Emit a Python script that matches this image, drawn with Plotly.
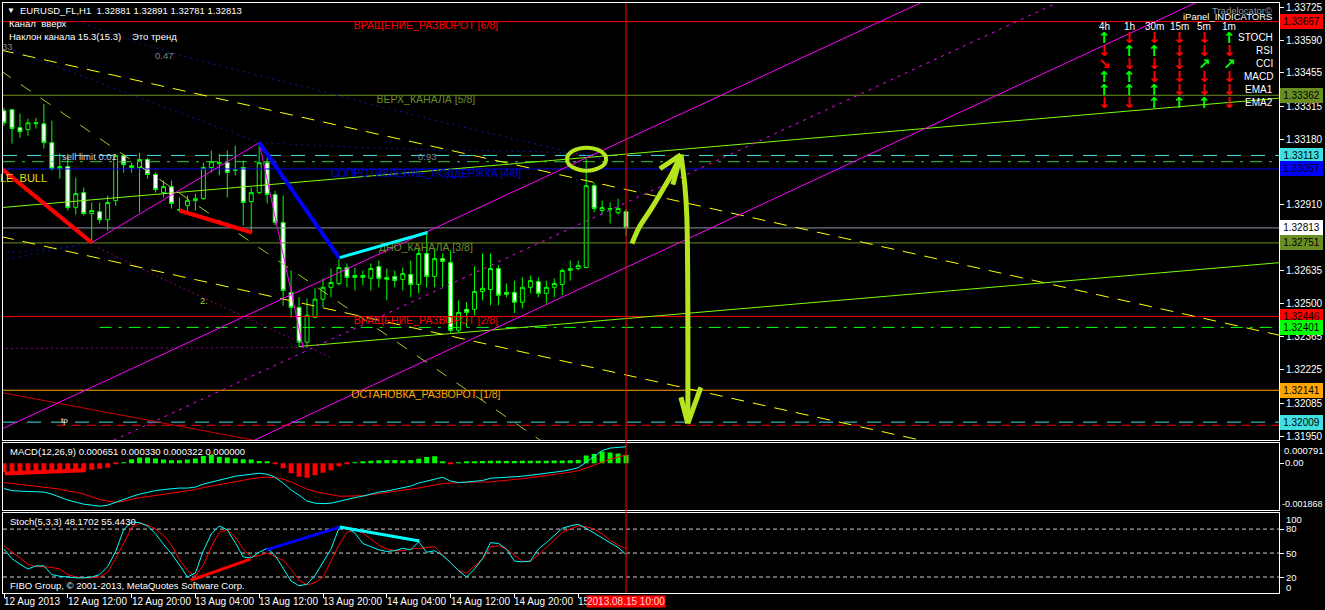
import plotly.graph_objects as go

# ---------------------------------------------------------------------------
# EURUSD_FL, H1 : bars from 12 Aug 2013 04:00 to 15 Aug 2013 10:00
# ---------------------------------------------------------------------------
bar_index = list(range(79))

opens = [1.33298, 1.33302, 1.33228, 1.33220, 1.33244, 1.33244, 1.33166, 1.33058, 1.33067, 1.32897,
         1.32959, 1.32872, 1.32880, 1.32847, 1.32926, 1.33112, 1.33063, 1.33063, 1.33096, 1.33034,
         1.32959, 1.32984, 1.32889, 1.32905, 1.32926, 1.32934, 1.33063, 1.33079, 1.33083, 1.33054,
         1.33063, 1.32922, 1.32959, 1.33083, 1.32951, 1.32835, 1.32546, 1.32484, 1.32340, 1.32443,
         1.32518, 1.32567, 1.32583, 1.32649, 1.32616, 1.32616, 1.32604, 1.32653, 1.32608, 1.32612,
         1.32600, 1.32620, 1.32579, 1.32707, 1.32612, 1.32686, 1.32670, 1.32389, 1.32476, 1.32476,
         1.32550, 1.32558, 1.32645, 1.32546, 1.32546, 1.32505, 1.32567, 1.32591, 1.32542, 1.32567,
         1.32579, 1.32637, 1.32645, 1.32649, 1.32988, 1.32885, 1.32893, 1.32876, 1.32881]
highs = [1.33310, 1.33306, 1.33286, 1.33265, 1.33269, 1.33327, 1.33257, 1.33120, 1.33120, 1.33021,
         1.32980, 1.32918, 1.32918, 1.32947, 1.33120, 1.33120, 1.33083, 1.33124, 1.33104, 1.33042,
         1.33009, 1.33009, 1.32939, 1.32947, 1.32955, 1.33083, 1.33133, 1.33120, 1.33133, 1.33154,
         1.33092, 1.32980, 1.33166, 1.33104, 1.32967, 1.32947, 1.32637, 1.32526, 1.32521, 1.32563,
         1.32604, 1.32645, 1.32686, 1.32666, 1.32649, 1.32637, 1.32666, 1.32678, 1.32645, 1.32637,
         1.32649, 1.32678, 1.32728, 1.32790, 1.32728, 1.32707, 1.32720, 1.32513, 1.32505, 1.32654,
         1.32707, 1.32707, 1.32658, 1.32583, 1.32595, 1.32608, 1.32616, 1.32608, 1.32595, 1.32604,
         1.32645, 1.32678, 1.32678, 1.33100, 1.33000, 1.32926, 1.32918, 1.32934, 1.32891]
lows = [1.33236, 1.33162, 1.33186, 1.33195, 1.33224, 1.33141, 1.33050, 1.33017, 1.32885, 1.32868,
        1.32864, 1.32753, 1.32831, 1.32802, 1.32905, 1.33042, 1.33042, 1.32877, 1.33017, 1.32959,
        1.32939, 1.32893, 1.32877, 1.32877, 1.32885, 1.32930, 1.33042, 1.33030, 1.32939, 1.33030,
        1.32823, 1.32794, 1.32951, 1.32914, 1.32823, 1.32491, 1.32442, 1.32319, 1.32319, 1.32439,
        1.32484, 1.32526, 1.32575, 1.32567, 1.32554, 1.32575, 1.32554, 1.32567, 1.32513, 1.32567,
        1.32554, 1.32526, 1.32542, 1.32567, 1.32567, 1.32567, 1.32380, 1.32380, 1.32402, 1.32451,
        1.32513, 1.32493, 1.32493, 1.32526, 1.32460, 1.32480, 1.32542, 1.32526, 1.32500, 1.32526,
        1.32534, 1.32595, 1.32637, 1.32645, 1.32877, 1.32868, 1.32831, 1.32868, 1.32781]
closes = [1.33248, 1.33224, 1.33211, 1.33248, 1.33248, 1.33166, 1.33058, 1.33067, 1.32897, 1.32955,
          1.32872, 1.32885, 1.32847, 1.32918, 1.33112, 1.33075, 1.33071, 1.33096, 1.33034, 1.32972,
          1.32984, 1.32914, 1.32887, 1.32926, 1.32934, 1.33063, 1.33087, 1.33083, 1.33042, 1.33052,
          1.32918, 1.32959, 1.33083, 1.32951, 1.32835, 1.32554, 1.32484, 1.32340, 1.32451, 1.32518,
          1.32567, 1.32587, 1.32649, 1.32608, 1.32608, 1.32608, 1.32645, 1.32604, 1.32600, 1.32595,
          1.32624, 1.32579, 1.32707, 1.32612, 1.32686, 1.32674, 1.32389, 1.32463, 1.32463, 1.32550,
          1.32563, 1.32645, 1.32534, 1.32538, 1.32505, 1.32567, 1.32595, 1.32542, 1.32567, 1.32583,
          1.32637, 1.32645, 1.32658, 1.32988, 1.32893, 1.32897, 1.32891, 1.32893, 1.32813]

# MACD(12,26,9)
macd_main = [-0.00101, -0.00109, -0.00111, -0.00113, -0.00115, -0.00115, -0.00123, -0.00135, -0.00147, -0.00155,
             -0.00163, -0.00167, -0.00171, -0.00167, -0.00155, -0.00143, -0.00133, -0.00123, -0.00115, -0.00109,
             -0.00105, -0.00101, -0.00099, -0.00099, -0.00095, -0.00083, -0.00075, -0.00067, -0.00060, -0.00052,
             -0.00048, -0.00044, -0.00040, -0.00044, -0.00056, -0.00079, -0.00107, -0.00127, -0.00151, -0.00159,
             -0.00161, -0.00159, -0.00151, -0.00145, -0.00137, -0.00131, -0.00123, -0.00115, -0.00111, -0.00105,
             -0.00099, -0.00091, -0.00079, -0.00071, -0.00062, -0.00056, -0.00071, -0.00077, -0.00075, -0.00073,
             -0.00069, -0.00060, -0.00058, -0.00058, -0.00056, -0.00052, -0.00048, -0.00044, -0.00042, -0.00038,
             -0.00032, -0.00026, -0.00018, 0.00004, 0.00028, 0.00050, 0.00060, 0.00064, 0.000651]
macd_signal = [-0.00077, -0.00081, -0.00085, -0.00087, -0.00091, -0.00095, -0.00099, -0.00103, -0.00111, -0.00115,
               -0.00123, -0.00135, -0.00145, -0.00151, -0.00155, -0.00151, -0.00143, -0.00137, -0.00133, -0.00129,
               -0.00123, -0.00119, -0.00115, -0.00109, -0.00105, -0.00097, -0.00091, -0.00083, -0.00077, -0.00071,
               -0.00067, -0.00062, -0.00058, -0.00056, -0.00058, -0.00063, -0.00075, -0.00089, -0.00103, -0.00113,
               -0.00119, -0.00127, -0.00131, -0.00131, -0.00131, -0.00129, -0.00125, -0.00121, -0.00117, -0.00113,
               -0.00109, -0.00105, -0.00099, -0.00093, -0.00087, -0.00081, -0.00079, -0.00077, -0.00077, -0.00075,
               -0.00075, -0.00075, -0.00071, -0.00067, -0.00065, -0.00062, -0.00058, -0.00054, -0.00050, -0.00046,
               -0.00040, -0.00036, -0.00030, -0.00020, -0.00008, 0.00004, 0.00016, 0.00024, 0.000330]
macd_hist = [-0.00036, -0.00038, -0.00038, -0.00036, -0.00034, -0.00032, -0.00030, -0.00030, -0.00030, -0.00028,
             -0.00028, -0.00026, -0.00022, -0.00018, -0.00004, 0.00003, 0.00016, 0.00023, 0.00023, 0.00019,
             0.00015, 0.00012, 0.00012, 0.00015, 0.00019, 0.00028, 0.00032, 0.00025, 0.00023, 0.00019,
             0.00016, 0.00015, 0.00009, 0.00004, -0.00002, -0.00020, -0.00040, -0.00054, -0.00058, -0.00048,
             -0.00038, -0.00028, -0.00012, -0.00004, 0.00002, 0.00005, 0.00010, 0.00012, 0.00013, 0.00013,
             0.00011, 0.00013, 0.00018, 0.00024, 0.00027, 0.00004, -0.00002, 0.00002, 0.00006, 0.00008,
             0.00009, 0.00010, 0.00010, 0.00009, 0.00009, 0.00010, 0.00010, 0.00010, 0.00010, 0.00011,
             0.00011, 0.00012, 0.00013, 0.00030, 0.00036, 0.00046, 0.00042, 0.00038, 0.000322]

# Stochastic(5,3,3)
stoch_main = [55, 43, 36, 30, 34, 34, 23, 21, 20, 19,
              19, 20, 23, 33, 52, 79, 89, 88, 84, 74,
              61, 49, 35, 20, 25, 53, 74, 84, 79, 63,
              45, 44, 51, 56, 47, 31, 15, 9, 11, 22,
              39, 55, 81, 82, 75, 62, 58, 54, 52, 53,
              56, 54, 64, 51, 53, 47, 38, 28, 20, 30,
              43, 63, 62, 55, 40, 39, 40, 55, 63, 72,
              81, 84, 86, 81, 75, 69, 64, 57, 48.1702]
stoch_signal = [59, 52, 44, 36, 33, 33, 32, 30, 23, 20,
                19, 19, 20, 26, 43, 62, 82, 87, 85, 80,
                72, 60, 42, 28, 21, 35, 58, 76, 79, 70,
                55, 45, 47, 50, 46, 41, 30, 16, 10, 13,
                20, 41, 60, 76, 79, 75, 68, 60, 55, 53,
                53, 55, 56, 57, 58, 48, 38, 28, 25, 33,
                42, 58, 59, 55, 47, 40, 39, 48, 56, 66,
                76, 80, 84, 83, 80, 74, 66, 60, 55.443]

# time scale
time_label_bars = [0, 8, 16, 24, 32, 40, 48, 56, 64, 72]
time_labels = ["12 Aug 2013", "12 Aug 12:00", "12 Aug 20:00", "13 Aug 04:00", "13 Aug 12:00",
               "13 Aug 20:00", "14 Aug 04:00", "14 Aug 12:00", "14 Aug 20:00", "15 Aug 04:00"]
current_bar = 78
current_bar_label = "2013.08.15 10:00"

# price scale
price_ticks = [1.33725, 1.33590, 1.33455, 1.33315, 1.33180, 1.33045, 1.32910,
               1.32770, 1.32635, 1.32500, 1.32365, 1.32225, 1.32085, 1.31950]

# Murrey-math levels
murrey_prices = [1.33667, 1.33362, 1.33057, 1.32751, 1.32446, 1.32141]
murrey_names = ["ВРАЩЕНИЕ_РАЗВОРОТ [6/8]", "ВЕРХ_КАНАЛА [5/8]", "СОПРОТИВЛЕНИЕ_ПОДДЕРЖКА [4/8]",
                "ДНО_КАНАЛА [3/8]", "ВРАЩЕНИЕ_РАЗВОРОТ [2/8]", "ОСТАНОВКА_РАЗВОРОТ [1/8]"]
murrey_label_bar = 52.9

# order lines
bid_price = 1.32813
sell_limit_price = 1.33113
take_profit_price = 1.32009
tp_marker_price = 1.31996
upper_dashdot_price = 1.33087
lower_dashdot_price = 1.32401

# price tags on the right scale
tag_prices = [1.33667, 1.33362, 1.33113, 1.33057, 1.32813, 1.32751, 1.32446, 1.32401, 1.32141, 1.32009]

# regression channel (three parallel lines), (bar, price) end points
chan_upper_bars, chan_upper_prices = [-0.375, 114.875], [1.31979, 1.33744]
chan_mid_bars, chan_mid_prices = [13.75, 132.0], [1.31934, 1.33744]
chan_lower_bars, chan_lower_prices = [31.375, 149.375], [1.31934, 1.33744]

# zigzag swing points
zz_bars = [-0.375, 11, 32, 37.5]
zz_prices = [1.33062, 1.32752, 1.33166, 1.32318]

# trend lines
yel1_bars, yel1_prices = [-0.375, 159.875], [1.33549, 1.32369]
yel2_bars, yel2_prices = [-0.375, 115.0], [1.32777, 1.31934]
limedash_bars, limedash_prices = [-0.375, 67.25], [1.33463, 1.31934]
lime_up_bars, lime_up_prices = [-0.375, 159.875], [1.32897, 1.33350]
lime_lo_bars, lime_lo_prices = [37.0, 159.875], [1.32322, 1.32669]
red_thin_bars, red_thin_prices = [-0.375, 31.375], [1.32132, 1.31934]

# Fibonacci fan / arc rays
fanA_bars, fanA_prices = [-0.375, 32], [1.33567, 1.33166]
fanB_bars = [8.375, 19.375, 37.125, 55.875, 70.25, 75.875]
fanB_prices = [1.33678, 1.33554, 1.33401, 1.33244, 1.33133, 1.33091]
fanC_bars = [32, 48.975, 70.25, 75.875]
fanC_prices = [1.33166, 1.33141, 1.33124, 1.33108]
arcD1_bars, arcD1_prices = [-0.375, 10.875], [1.32678, 1.32752]
arcD2_bars, arcD2_prices = [-0.375, 9.25], [1.32707, 1.32740]
purp1_bars = [11.75, 23, 37.125, 40.875]
purp1_prices = [1.32732, 1.32554, 1.32339, 1.32277]
purp2_bars, purp2_prices = [-0.375, 38.375], [1.32314, 1.32318]

# divergence lines on price
div_red1_bars, div_red1_prices = [-0.375, 11], [1.33060, 1.32752]
div_red2_bars, div_red2_prices = [22, 31.1], [1.32885, 1.32794]
div_blue_bars, div_blue_prices = [32, 42.1], [1.33166, 1.32686]
div_cyan_bars, div_cyan_prices = [42.1, 53.1], [1.32690, 1.32794]

# divergence lines on oscillators
macd_div_bars, macd_div_vals = [0.1, 10.25], [-0.00041, -0.00028]
st_red_bars, st_red_vals = [23.4, 30.9], [16, 42.5]
st_blue_bars, st_blue_vals = [32.9, 42.1], [54, 82.5]
st_cyan_bars, st_cyan_vals = [42.1, 52.1], [82.5, 65]

# hand-drawn forecast arrow and highlight ring
arrow_up_bars = [78.75, 79.625, 81.25, 82.75, 83.75, 84.875]
arrow_up_prices = [1.32748, 1.32814, 1.32897, 1.32980, 1.33037, 1.33116]
arrow_top_l_bars, arrow_top_l_prices = [82.25, 84.875], [1.33058, 1.33116]
arrow_top_r_bars, arrow_top_r_prices = [83.875, 84.875], [1.32992, 1.33116]
arrow_dn_bars = [84.875, 85.375, 85.625, 85.75]
arrow_dn_prices = [1.33116, 1.32988, 1.32855, 1.32004]
arrow_bot_l_bars, arrow_bot_l_prices = [84.875, 85.75], [1.32112, 1.32004]
arrow_bot_r_bars, arrow_bot_r_prices = [87.375, 85.75], [1.32153, 1.32004]
ring_bars, ring_prices = [70.6, 75.5], [1.33050, 1.33145]

# indicator panel
panel_cols = ["4h", "1h", "30m", "15m", "5m", "1m"]
panel_rows = ["STOCH", "RSI", "CCI", "MACD", "EMA1", "EMA2"]
panel_signals = [["up", "dn", "dn", "dn", "dn", "up"],
                 ["dn", "up", "up", "dn", "dn", "dn"],
                 ["dr", "dn", "dn", "dn", "ur", "ur"],
                 ["up", "up", "dn", "dn", "dn", "dn"],
                 ["up", "up", "up", "dn", "dn", "dn"],
                 ["dn", "dn", "up", "up", "up", "dn"]]

# ---------------------------------------------------------------------------
FONT = "Liberation Sans, Arial, sans-serif"
FS = 9.5
FS_AX = 10
W, H = 1325, 610
ML, MR, MT, MB = 2, 43, 2, 17
XR = [-0.125, 159.875]

MAIN_DOM = [0.2589, 1.0]
MACD_DOM = [0.1404, 0.2538]
STOCH_DOM = [0.0, 0.1354]


def px(x):
    return (x - ML) / (W - ML - MR)


def py(y):
    return (H - MB - y) / (H - MT - MB)


fig = go.Figure()


def add_line(xs, ys, color, width=1, dash="solid", pane="main", shape="linear"):
    xa, ya = {"main": ("x", "y"), "macd": ("x2", "y2"), "stoch": ("x3", "y3")}[pane]
    fig.add_trace(go.Scatter(x=xs, y=ys, mode="lines", xaxis=xa, yaxis=ya,
                             line=dict(color=color, width=width, dash=dash, shape=shape),
                             hoverinfo="skip", showlegend=False))


def hline(price, color, width=1, dash="solid", start=XR[0]):
    add_line([start, XR[1]], [price, price], color, width, dash)


# ---------------- main pane: objects under the bars ----------------
hline(murrey_prices[0], "#ff0000")
hline(murrey_prices[1], "#6b8e23")
hline(sell_limit_price, "#40e0e0", 1, "14px,10px")
hline(upper_dashdot_price, "#32cd32", 1, "12px,7px,3px,7px")
hline(murrey_prices[2], "#0000e0")
hline(bid_price, "#8c99a6")
hline(murrey_prices[3], "#6b8e23")
hline(murrey_prices[4], "#ff0000")
hline(lower_dashdot_price, "#00ff00", 1, "12px,7px,3px,7px", start=12)
hline(murrey_prices[5], "#ffa500")
hline(take_profit_price, "#40e0e0", 1, "14px,10px")
hline(tp_marker_price, "#ff0000", 1, "9px,6px", start=6.6)

add_line(fanA_bars, fanA_prices, "#0a1a9a", 1, "2px,4px")
add_line(fanB_bars, fanB_prices, "#0a1a9a", 1, "2px,4px", shape="spline")
add_line(fanC_bars, fanC_prices, "#0a1a9a", 1, "2px,4px", shape="spline")
add_line(arcD1_bars, arcD1_prices, "#0a1a9a", 1, "2px,4px")
add_line(arcD2_bars, arcD2_prices, "#0a1a9a", 1, "2px,4px")
add_line(purp1_bars, purp1_prices, "#8b008b", 1, "2px,3px")
add_line(purp2_bars, purp2_prices, "#8b008b", 1, "2px,3px")
add_line(red_thin_bars, red_thin_prices, "#d00000", 1)

add_line(yel1_bars, yel1_prices, "#ffff00", 1, "13px,9px")
add_line(yel2_bars, yel2_prices, "#ffff00", 1, "13px,9px")
add_line(limedash_bars, limedash_prices, "#9acd32", 1, "12px,12px")
add_line(lime_up_bars, lime_up_prices, "#7cfc00", 1)
add_line(lime_lo_bars, lime_lo_prices, "#7cfc00", 1)

add_line(chan_upper_bars, chan_upper_prices, "#ff00ff", 1)
add_line(chan_mid_bars, chan_mid_prices, "#ff00ff", 1, "3px,5px")
add_line(chan_lower_bars, chan_lower_prices, "#ff00ff", 1)

# level captions (kept under the bars)
murrey_colors = ["#ff0000", "#6b8e23", "#0000e0", "#6b8e23", "#ff0000", "#ffa500"]
for p, name, c in zip(murrey_prices, murrey_names, murrey_colors):
    fig.add_trace(go.Scatter(x=[murrey_label_bar], y=[p], mode="text", text=[name],
                             textposition="bottom center", xaxis="x", yaxis="y",
                             textfont=dict(color=c, size=10.5, family=FONT),
                             hoverinfo="skip", showlegend=False))

# ---------------- price bars ----------------
fig.add_trace(go.Candlestick(
    x=bar_index, open=opens, high=highs, low=lows, close=closes,
    xaxis="x", yaxis="y",
    increasing=dict(line=dict(color="#00ff00", width=1), fillcolor="#000000"),
    decreasing=dict(line=dict(color="#00ff00", width=1), fillcolor="#ffffff"),
    whiskerwidth=0, hoverinfo="skip", showlegend=False))

# ---------------- main pane: objects over the bars ----------------
add_line(zz_bars, zz_prices, "#ff00ff", 1)
add_line(div_red1_bars, div_red1_prices, "#ff0000", 4)
add_line(div_red2_bars, div_red2_prices, "#ff0000", 4)
add_line(div_blue_bars, div_blue_prices, "#0000ff", 4)
add_line(div_cyan_bars, div_cyan_prices, "#00ffff", 3)

ARROW = "#b5e61d"
add_line(arrow_up_bars, arrow_up_prices, ARROW, 5, shape="spline")
add_line(arrow_top_l_bars, arrow_top_l_prices, ARROW, 5)
add_line(arrow_top_r_bars, arrow_top_r_prices, ARROW, 5)
add_line(arrow_dn_bars, arrow_dn_prices, ARROW, 5, shape="spline")
add_line(arrow_bot_l_bars, arrow_bot_l_prices, ARROW, 5)
add_line(arrow_bot_r_bars, arrow_bot_r_prices, ARROW, 5)
fig.add_shape(type="circle", xref="x", yref="y", x0=ring_bars[0], x1=ring_bars[1],
              y0=ring_prices[0], y1=ring_prices[1], line=dict(color=ARROW, width=4))

# ---------------- MACD pane ----------------
fig.add_trace(go.Bar(x=bar_index, y=macd_hist, xaxis="x2", yaxis="y2", width=0.62,
                     marker=dict(color=["#00ff00" if v >= 0 else "#ff0000" for v in macd_hist],
                                 line=dict(width=0)),
                     hoverinfo="skip", showlegend=False))
add_line(bar_index, macd_signal, "#ff0000", 1, pane="macd")
add_line(bar_index, macd_main, "#00ffff", 1, pane="macd")
add_line(macd_div_bars, macd_div_vals, "#ff0000", 4, pane="macd")

# ---------------- Stochastic pane ----------------
for lv in (80, 50, 20):
    add_line(XR, [lv, lv], "#d0d0d0", 1, "4px,3px", pane="stoch")
add_line(bar_index, stoch_signal, "#ff0000", 1, pane="stoch")
add_line(bar_index, stoch_main, "#00ffff", 1, pane="stoch")
add_line(st_red_bars, st_red_vals, "#ff0000", 3, pane="stoch")
add_line(st_blue_bars, st_blue_vals, "#0000ff", 3, pane="stoch")
add_line(st_cyan_bars, st_cyan_vals, "#00ffff", 3, pane="stoch")

# current bar marker through all panes
fig.add_shape(type="line", xref="x", yref="paper", x0=current_bar, x1=current_bar,
              y0=0, y1=1, line=dict(color="#ff0000", width=1))

# ---------------- axes ----------------
axis_common = dict(showgrid=False, zeroline=False, showline=True, mirror=True,
                   linecolor="#ffffff", linewidth=1, fixedrange=True)
fig.update_layout(
    width=W, height=H,
    margin=dict(l=ML, r=MR, t=MT, b=MB),
    paper_bgcolor="#000000", plot_bgcolor="#000000",
    hovermode=False, showlegend=False, dragmode=False,
    xaxis=dict(domain=[0, 1], range=XR, anchor="y", showticklabels=False,
               rangeslider=dict(visible=False), **axis_common),
    xaxis2=dict(domain=[0, 1], range=XR, anchor="y2", matches="x", showticklabels=False, **axis_common),
    xaxis3=dict(domain=[0, 1], range=XR, anchor="y3", matches="x", showticklabels=False,
                tickmode="array", tickvals=time_label_bars, ticks="outside", ticklen=4,
                tickcolor="#ffffff", **axis_common),
    yaxis=dict(domain=MAIN_DOM, range=[1.31934, 1.33744], anchor="x", side="right",
               tickmode="array", tickvals=price_ticks, ticktext=[f"{v:.5f}" for v in price_ticks],
               ticks="outside", ticklen=4, tickcolor="#ffffff",
               tickfont=dict(color="#ffffff", size=FS_AX, family=FONT), **axis_common),
    yaxis2=dict(domain=MACD_DOM, range=[-0.001868, 0.000791], anchor="x2", side="right",
                tickmode="array", tickvals=[0], showticklabels=False, ticks="outside", ticklen=4,
                tickcolor="#ffffff", **axis_common),
    yaxis3=dict(domain=STOCH_DOM, range=[0, 100], anchor="x3", side="right",
                tickmode="array", tickvals=[20, 50, 80], showticklabels=False, ticks="outside",
                ticklen=4, tickcolor="#ffffff", **axis_common),
)


# ---------------- text ----------------
def label(x, y, text, color="#ffffff", size=FS, xanchor="left", yanchor="middle", family=FONT, **kw):
    fig.add_annotation(xref="paper", yref="paper", x=px(x), y=py(y), text=text, showarrow=False,
                       xanchor=xanchor, yanchor=yanchor,
                       font=dict(color=color, size=size, family=family), **kw)


label(4, 10, "▼", size=8)
label(17, 10, "EURUSD_FL,H1  1.32881 1.32891 1.32781 1.32813")
label(6, 23, "Канал  вверх")
label(6, 36, "Наклон канала 15.3(15.3)")
label(129, 36, "Это тренд")
label(-1, 46, "33", color="#7a8796")
label(152, 55, "0.47", color="#7a8796")
label(416, 156, "0.93", color="#7a8796")
label(59, 156, "sell limit 0.01", color="#c8d2e6")
label(-3, 177, "LE  BULL", color="#e8dc00", size=11)
label(198, 300, "2.", color="#9acd32")
label(58, 420, "tp", color="#ffffff", size=8)

# indicator panel
label(1277, 10, "Tradelocator©", color="#9a9a9a", xanchor="right")
label(1277, 16, "iPanel_INDICATORS", color="#ffffff", xanchor="right")
col_x = [1107, 1132, 1157, 1182, 1207, 1232]
row_y = [37, 50, 63, 76, 89, 102]
for cx, name in zip(col_x, panel_cols):
    label(cx, 26, name, size=10, xanchor="center")
for ry, name in zip(row_y, panel_rows):
    label(1278, ry, name, size=10, xanchor="right")
arrow_glyph = {"up": ("↑", "#00ff00"), "dn": ("↓", "#ff0000"),
               "ur": ("↗", "#00ff00"), "dr": ("↘", "#ff0000")}
for ry, row in zip(row_y, panel_signals):
    for cx, sig in zip(col_x, row):
        g, c = arrow_glyph[sig]
        label(cx, ry, f"<b>{g}</b>", color=c, size=15, xanchor="center", family="DejaVu Sans")

# price tags on the scale
tag_colors = ["#ff0000", "#6b8e23", "#40e0e0", "#0000ff", "#ffffff",
              "#6b8e23", "#ff0000", "#00ff00", "#ffa500", "#40e0e0"]
for p, c in zip(tag_prices, tag_colors):
    fig.add_annotation(xref="paper", yref="y", x=1.0, y=p, xanchor="left", yanchor="middle",
                       xshift=1, text=f"{p:.5f}", showarrow=False, bgcolor=c, bordercolor=c,
                       borderpad=0, width=41, height=13, align="center",
                       font=dict(color="#000000", size=FS_AX, family=FONT))

# oscillator captions and scales
label(7, 451, "MACD(12,26,9) 0.000651 0.000330 0.000322 0.000000")
label(7, 521, "Stoch(5,3,3) 48.1702 55.4430")
label(7, 585, "FIBO Group, © 2001-2013, MetaQuotes Software Corp.")
label(1285, 450, "0.000791", size=9.5)
label(1286, 462, "0.00", size=9.5)
label(1283, 504, "-0.001868", size=9)
label(1287, 519, "100", size=9.5)
label(1287, 528, "80", size=9.5)
label(1287, 553, "50", size=9.5)
label(1287, 577, "20", size=9.5)
label(1287, 587, "0", size=9.5)

# time scale labels
for b, t in zip(time_label_bars, time_labels):
    fig.add_annotation(xref="x3", yref="paper", x=b, y=py(602), xanchor="left", yanchor="middle",
                       xshift=-2, text=t, showarrow=False,
                       font=dict(color="#ffffff", size=FS_AX, family=FONT))
fig.add_annotation(xref="x3", yref="paper", x=current_bar, y=py(602), xanchor="center",
                   yanchor="middle", text=current_bar_label, showarrow=False, bgcolor="#ff0000",
                   borderpad=0, font=dict(color="#ffd8d8", size=FS_AX, family=FONT))

fig.write_html("out.html")
